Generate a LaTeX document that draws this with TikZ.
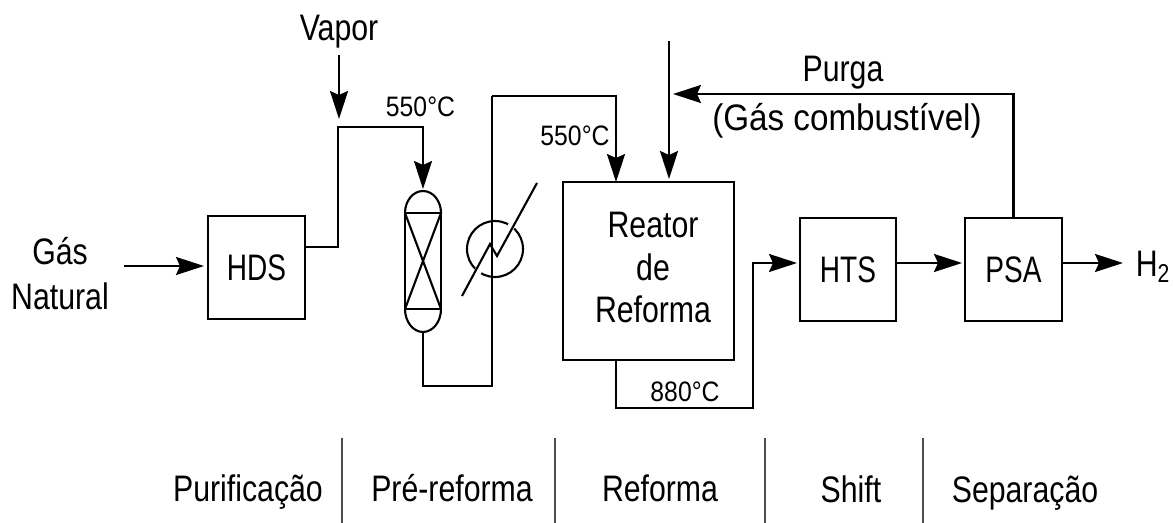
\documentclass[tikz,border=0pt]{standalone}
\usepackage{fontspec}
\setmainfont[FakeStretch=0.82]{Liberation Sans}
\newfontfamily\boxfont[FakeStretch=0.76]{Liberation Sans}
\newfontfamily\wideface[FakeStretch=0.9]{Liberation Sans}
\newfontfamily\tempface[FakeStretch=0.88]{Liberation Sans}
\usetikzlibrary{positioning,arrows.meta}

\begin{document}
\begin{tikzpicture}[x=0.02cm, y=-0.02cm, >={Stealth[length=0.56cm, width=0.36cm, inset=0.08cm]}, line width=1.2pt,
    unitbox/.style={rectangle, draw, minimum width=1.93cm, minimum height=2.06cm, inner sep=0pt, outer sep=0pt, font=\boxfont\fontsize{21}{25}\selectfont},
    lbl/.style={font=\fontsize{21}{24}\selectfont, inner sep=0pt, outer sep=0pt, align=center},
    section/.style={lbl, anchor=base},
    temp/.style={font=\tempface\fontsize{16}{18}\selectfont, inner sep=0pt, outer sep=0pt},
    sep/.style={line width=1pt, black!70}]
  \useasboundingbox (0,0) rectangle (1173,523);

  % Nodes
  \node[unitbox] (hds) at (256.5,267.5) {HDS};
  \node[rectangle, draw, minimum width=0.72cm, minimum height=1.92cm, inner sep=0pt, outer sep=0pt] (vessel) at (423,261) {};
  \node[circle, draw, minimum size=1.12cm, inner sep=0pt, outer sep=0pt] (hx) at (495,249) {};
  \node[unitbox, minimum width=3.42cm, minimum height=3.56cm] (reactor) at (648.5,271) {};
  \node[lbl, text width=3.4cm] (reactorlbl) at (653,267.5) {Reator\\de\\Reforma};
  \node[unitbox] (hts) at (848,269.5) {HTS};
  \node[unitbox] (psa) at (1013.5,269.5) {PSA};

  % Free ends and bends
  \coordinate (gasin) at (124,266);
  \coordinate (hdsin) at (204,266);
  \coordinate (vaporin) at (339,55);
  \coordinate (vaporend) at (339,119);
  \coordinate (vtop) at (423,189);
  \coordinate (vbot) at (423,332);
  \coordinate (fuelin) at (669,41);
  \coordinate (fueljoin) at (673,94);
  \coordinate (h2out) at (1123,263);

  % Vessel caps and packing
  \draw (vessel.north west) arc[start angle=180, end angle=360, x radius=18, y radius=22];
  \draw (vessel.south west) arc[start angle=180, end angle=0, x radius=18, y radius=23];
  \draw (vessel.north west) -- (vessel.south east);
  \draw (vessel.north east) -- (vessel.south west);

  % Heat exchanger
  \draw[white, line width=1.6pt] (hx) ++(-62:28) arc[start angle=-62, end angle=-47, radius=28];
  \draw[white, line width=1.6pt] (hx) ++(135:28) arc[start angle=135, end angle=120, radius=28];
  \draw (462,296) -- (490,244) -- (497,256) -- (537,183);

  % Streams
  \draw[->] (gasin) -- (hdsin);
  \draw[->] (hds.east |- 0,247) -- (338,247) -- (338,127) -- (423,127) -- (vtop);
  \draw[->] (vaporin) -- (vaporend);
  \draw (vbot) -- (423,386) -- (492,386) -- (492,96);
  \draw[->] (492,96) -- (616,96) -- (reactor.north -| 616,0);
  \draw[->] (fuelin) -- (669,179);
  \draw[->] (psa.north) -- (fueljoin -| psa.north) -- (fueljoin);
  \draw[->] (reactor.south -| 616,0) -- (616,408) -- (753,408) -- (753,263) -- (797,263);
  \draw[->] (hts.east |- 0,263) -- (962,263);
  \draw[->] (psa.east |- 0,263) -- (h2out);

  % Labels
  \node[lbl, font=\fontsize{21}{25.5}\selectfont] (gas) at (60,274) {Gás\\Natural};
  \node[lbl] (vapor) at (339,32) {Vapor};
  \node[temp] (tempa) at (420.5,107) {550°C};
  \node[temp] (tempb) at (575,136) {550°C};
  \node[temp] (tempc) at (685,392) {880°C};
  \node[lbl] (purga) at (843,73) {Purga};
  \node[lbl, font=\wideface\fontsize{21}{24}\selectfont] (fuel) at (847,120.5) {(Gás combustível)};
  \node[lbl] (h2) at (1153,267) {H\textsubscript{2}};

  % Sections
  \node[section] (purif) at (248,501) {Purificação};
  \node[section] (prere) at (452,501) {Pré-reforma};
  \node[section] (refor) at (660,501) {Reforma};
  \node[section] (shift) at (851,502) {Shift};
  \node[section] (separ) at (1025,502) {Separação};
  \foreach \xpos in {342,555,765,923}
    \draw[sep] (\xpos,438) -- (\xpos,523);
\end{tikzpicture}
\end{document}
